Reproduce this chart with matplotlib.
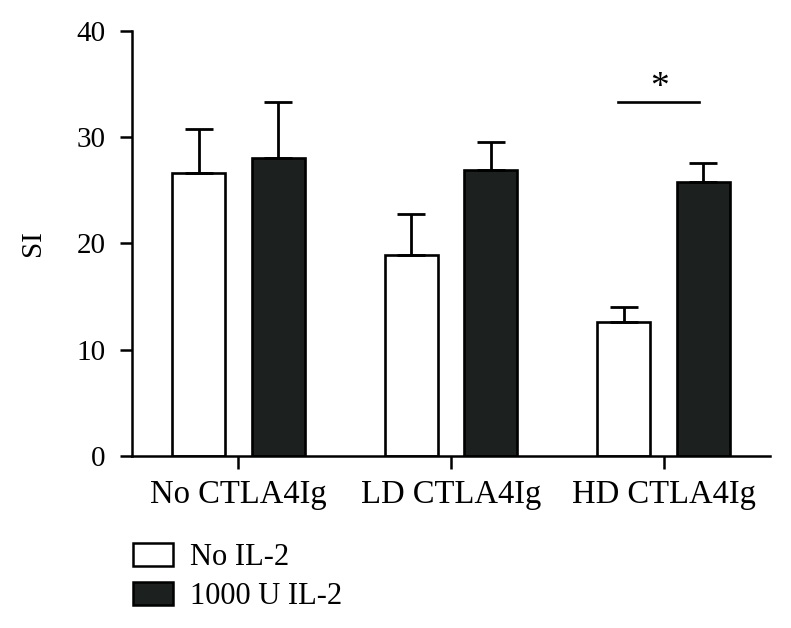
import numpy as np
import matplotlib
matplotlib.use('Agg')
import matplotlib.pyplot as plt
from matplotlib.patches import Patch

plt.rcParams['font.family'] = ['Liberation Serif', 'DejaVu Serif']

# Datos
groups = ['No CTLA4Ig', 'LD CTLA4Ig', 'HD CTLA4Ig']
series = ['No IL-2', '1000 U IL-2']
no_il2 = [26.6, 18.9, 12.6]
no_il2_err = [4.2, 3.9, 1.4]
il2 = [28.0, 26.9, 25.8]
il2_err = [5.3, 2.6, 1.8]
y_ticks = [0, 10, 20, 30, 40]

dark = '#1c201f'
x = np.arange(len(groups))
width = 0.25
off = 0.187

fig = plt.figure(figsize=(7.91, 6.28), dpi=100)
ax = fig.add_axes([132 / 791, 1 - 455.7 / 628, 638 / 791, 424.7 / 628])

err_kw = dict(elinewidth=2.0, capsize=10, capthick=2.0, ecolor='black')
ax.bar(x - off, no_il2, width, color='white', edgecolor='black', linewidth=1.9,
       yerr=[np.zeros(3), no_il2_err], error_kw=err_kw, zorder=2)
ax.bar(x + off, il2, width, color=dark, edgecolor='black', linewidth=1.9,
       yerr=[np.zeros(3), il2_err], error_kw=err_kw, zorder=2)

# Marca de significancia en HD CTLA4Ig
ax.plot([x[2] - off - 0.03, x[2] + off - 0.02], [33.3, 33.3], color='black', lw=1.9)
ax.text(x[2] - 0.02, 33.0, '*', ha='center', va='bottom', fontsize=27)

ax.set_xlim(-0.5, 2.5)
ax.set_ylim(0, 40)
ax.set_yticks(y_ticks)
ax.set_xticks(x)
ax.set_xticklabels(groups)
ax.set_ylabel('SI', fontsize=21, labelpad=22)

for s in ['top', 'right']:
    ax.spines[s].set_visible(False)
for s in ['left', 'bottom']:
    ax.spines[s].set_linewidth(1.8)

ax.tick_params(axis='y', labelsize=21, length=9, width=1.8, pad=10, direction='out')
ax.tick_params(axis='x', labelsize=23.5, length=9, width=1.8, pad=8, direction='out')

handles = [Patch(facecolor='white', edgecolor='black', linewidth=1.8),
           Patch(facecolor=dark, edgecolor='black', linewidth=1.8)]
fig.legend(handles, series, loc='upper left', bbox_to_anchor=(127 / 791, 1 - 537 / 628),
           frameon=False, fontsize=22, handlelength=1.3, handleheight=0.78,
           handletextpad=0.55, labelspacing=0.33, borderaxespad=0, borderpad=0.2)

fig.savefig('out.png', dpi=100)
